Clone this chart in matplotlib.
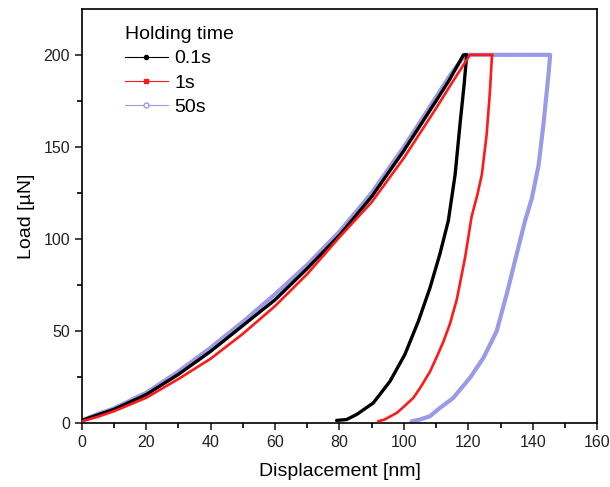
import matplotlib.pyplot as plt
import matplotlib
from matplotlib.lines import Line2D

matplotlib.rcParams['font.family'] = ['Liberation Sans', 'DejaVu Sans']

# 0.1s holding time: loading, hold, unloading
x_01 = [0, 5, 10, 20, 30, 40, 50, 60, 70, 80, 90, 100, 110, 114, 118.5,
        119.5, 118.7, 117.4, 115.9, 113.8, 111.2, 108.1, 104.5, 100.3, 95.7, 90.5, 85.3, 82.2, 79.1]
y_01 = [1.5, 4.5, 7.5, 15.5, 26.5, 39, 53, 67, 84, 102, 123, 148, 175, 186, 200,
        200, 184, 162, 135, 110, 92, 73.5, 55.4, 37.3, 22.8, 11, 4.7, 2, 1.5]

# 1s holding time
x_1 = [0, 5, 10, 20, 30, 40, 50, 60, 70, 80, 90, 100, 110, 115, 120.5,
       127.5, 127.3, 126.7, 125.7, 124.2, 122.8, 121, 119, 116.4, 114.3, 112.2, 110.2,
       108.1, 105, 102.9, 100, 97.8, 94, 92]
y_1 = [1, 3.5, 6.5, 13.8, 24, 35, 48.5, 63.6, 81, 101, 120, 144, 171, 185, 200,
       200, 198.5, 180, 157, 135, 124, 112, 90, 67, 54, 44, 36,
       28, 19, 13.7, 9, 5.6, 2, 1]

# 50s holding time
x_50 = [0, 5, 10, 20, 30, 40, 50, 60, 70, 80, 90, 100, 110, 114, 119,
        145.4, 144.9, 143.3, 141.8, 139.7, 137.6, 135, 131.9, 128.8, 124.7, 120.5, 115.3,
        111.2, 108.1, 105, 102.4]
y_50 = [1.5, 5, 8, 16.5, 28, 41, 55, 70, 86, 104, 125, 150, 177, 188, 200,
        200, 189.5, 162, 140, 122, 109.8, 91.7, 70, 50, 35.5, 24.6, 13.7,
        8.3, 3.8, 2, 1]

c_black = 'black'
c_red = '#ff1a1a'
c_blue = '#9a9ae6'

fig = plt.figure(figsize=(6.1, 4.87), dpi=100)
ax = fig.add_axes([0.134, 0.131, 0.845, 0.851])

ax.plot(x_50, y_50, color=c_blue, lw=3.0, solid_capstyle='round', solid_joinstyle='round', zorder=2)
ax.plot(x_01, y_01, color=c_black, lw=2.4, solid_capstyle='round', solid_joinstyle='round', zorder=3)
ax.plot(x_1, y_1, color=c_red, lw=1.9, solid_capstyle='round', solid_joinstyle='round', zorder=4)

ax.set_xlim(0, 160)
ax.set_ylim(0, 225)
ax.set_xticks(range(0, 161, 20))
ax.set_xticks(range(10, 160, 20), minor=True)
ax.set_yticks(range(0, 201, 50))
ax.set_yticks(range(25, 201, 50), minor=True)
ax.tick_params(which='major', direction='out', length=5, width=1.2, labelsize=11.5, colors='#222222')
ax.tick_params(which='minor', direction='out', length=3.5, width=1.2)
for s in ax.spines.values():
    s.set_linewidth(1.2)

ax.set_xlabel('Displacement [nm]', fontsize=14, labelpad=9)
ax.set_ylabel('Load [µN]', fontsize=14, labelpad=6)

handles = [Line2D([], [], color=c_black, lw=0.8, marker='o', ms=3),
           Line2D([], [], color=c_red, lw=0.8, marker='s', ms=2.5),
           Line2D([], [], color=c_blue, lw=0.8, marker='o', ms=3.5, mfc='white')]
leg = ax.legend(handles, ['0.1s', '1s', '50s'], title='Holding time', loc='upper left',
                bbox_to_anchor=(0.05, 1.0), frameon=False, fontsize=14, title_fontsize=14,
                handlelength=2.2, handletextpad=0.35, labelspacing=0.34, alignment='left')

fig.savefig('out.png', dpi=100)
